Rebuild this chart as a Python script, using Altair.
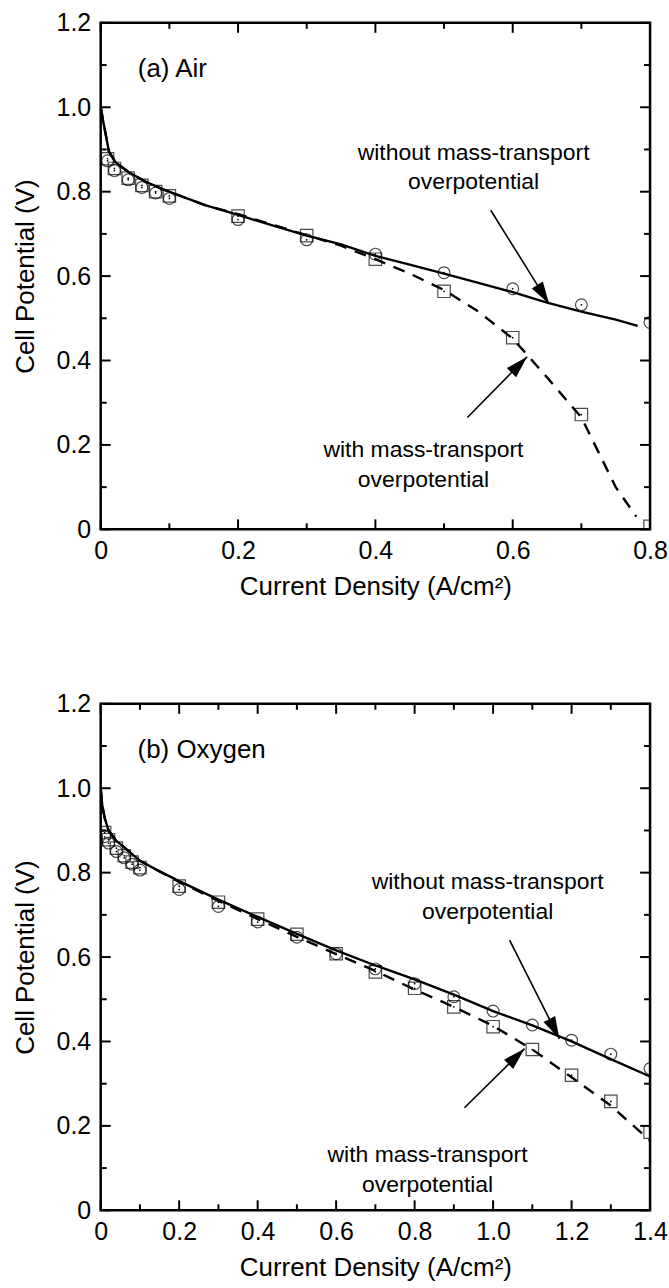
import math
import altair as alt
import pandas as pd

# ---------------- data: panel (a) Air ----------------
air_exp_x = [0.01, 0.02, 0.04, 0.06, 0.08, 0.1, 0.2, 0.3, 0.4, 0.5, 0.6, 0.7, 0.8]
air_circle_y = [0.873, 0.850, 0.828, 0.810, 0.797, 0.784, 0.734, 0.686, 0.652, 0.608, 0.570, 0.532, 0.490]
air_square_y = [0.878, 0.855, 0.832, 0.815, 0.800, 0.790, 0.742, 0.696, 0.640, 0.564, 0.454, 0.272, 0.007]

air_solid_x = [0, 0.004, 0.012, 0.022, 0.041, 0.065, 0.09, 0.114, 0.152, 0.2, 0.25, 0.3, 0.35,
               0.4, 0.45, 0.5, 0.55, 0.6, 0.65, 0.7, 0.75, 0.782]
air_solid_y = [1.0, 0.964, 0.895, 0.869, 0.846, 0.824, 0.806, 0.791, 0.768, 0.745, 0.720, 0.696, 0.675,
               0.648, 0.627, 0.606, 0.584, 0.562, 0.537, 0.516, 0.497, 0.482]
air_dash_x = [0, 0.004, 0.012, 0.022, 0.041, 0.065, 0.09, 0.114, 0.152, 0.2, 0.25, 0.3, 0.35,
              0.4, 0.45, 0.5, 0.55, 0.6, 0.65, 0.7, 0.75, 0.78]
air_dash_y = [1.0, 0.964, 0.895, 0.869, 0.846, 0.824, 0.806, 0.791, 0.768, 0.747, 0.722, 0.697, 0.672,
              0.640, 0.606, 0.567, 0.516, 0.452, 0.360, 0.265, 0.100, 0.030]

air_x_major = [0, 0.2, 0.4, 0.6, 0.8]
air_x_minor = [0.1, 0.3, 0.5, 0.7]

# ---------------- data: panel (b) Oxygen ----------------
oxy_exp_x = [0.01, 0.02, 0.04, 0.06, 0.08, 0.1, 0.2, 0.3, 0.4, 0.5, 0.6, 0.7, 0.8, 0.9,
             1.0, 1.1, 1.2, 1.3, 1.4]
oxy_circle_y = [0.885, 0.870, 0.850, 0.835, 0.820, 0.806, 0.760, 0.720, 0.683, 0.647, 0.608, 0.572,
                0.537, 0.506, 0.472, 0.439, 0.403, 0.370, 0.336]
oxy_square_y = [0.895, 0.878, 0.858, 0.840, 0.825, 0.812, 0.768, 0.730, 0.690, 0.654, 0.608, 0.565,
                0.526, 0.482, 0.435, 0.381, 0.320, 0.258, 0.185]

oxy_line_x = [0, 0.004, 0.01, 0.02, 0.04, 0.06, 0.1, 0.15, 0.2, 0.3, 0.4, 0.5, 0.6, 0.7, 0.8, 0.9,
              1.0, 1.1, 1.2, 1.3, 1.4]
oxy_solid_y = [1.0, 0.960, 0.930, 0.900, 0.875, 0.860, 0.828, 0.803, 0.780, 0.736, 0.695, 0.655,
               0.616, 0.580, 0.547, 0.511, 0.472, 0.438, 0.400, 0.358, 0.317]
oxy_dash_y = [1.0, 0.960, 0.930, 0.900, 0.875, 0.860, 0.828, 0.803, 0.778, 0.733, 0.690, 0.648,
              0.607, 0.567, 0.523, 0.482, 0.437, 0.381, 0.315, 0.248, 0.165]

oxy_x_major = [0, 0.2, 0.4, 0.6, 0.8, 1.0, 1.2, 1.4]
oxy_x_minor = [0.1, 0.3, 0.5, 0.7, 0.9, 1.1, 1.3]

y_major = [0, 0.2, 0.4, 0.6, 0.8, 1.0, 1.2]
y_minor = [0.1, 0.3, 0.5, 0.7, 0.9, 1.1]

# annotations: (text, x, y)
air_label = ("(a) Air", 0.054, 1.091)
air_notes = [("without mass-transport", 0.543, 0.891), ("overpotential", 0.543, 0.822),
             ("with mass-transport", 0.470, 0.189), ("overpotential", 0.470, 0.118)]
air_arrows = [(0.568, 0.756, 0.653, 0.534), (0.534, 0.265, 0.621, 0.409)]

oxy_label = ("(b) Oxygen", 0.094, 1.091)
oxy_notes = [("without mass-transport", 0.986, 0.777), ("overpotential", 0.986, 0.706),
             ("with mass-transport", 0.833, 0.132), ("overpotential", 0.833, 0.061)]
oxy_arrows = [(1.042, 0.640, 1.169, 0.406), (0.927, 0.243, 1.080, 0.383)]

# ---------------- styling ----------------
W, H = 551, 508
FONT = "Liberation Sans"
LAB_FS = 25
TITLE_FS = 26
PANEL_FS = 26
NOTE_FS = 23
MAJ, MIN = 10, 6
LBL = "datum.value == 0 ? '0' : format(datum.value, '.1f')"
ARROW_PATH = "M0,0 L0.58,2 L-0.58,2 Z"


def make_panel(xmax, x_major, x_minor, exp_x, circ_y, sq_y, s_x, s_y, d_x, d_y,
               label, notes, arrows):
    xs = alt.Scale(domain=[0, xmax], nice=False, zero=False)
    ys = alt.Scale(domain=[0, 1.2], nice=False, zero=False)
    xax = alt.Axis(values=x_major, labelExpr=LBL, ticks=False, domain=False, grid=False,
                   labelFontSize=LAB_FS, labelPadding=9, labelColor="black",
                   labelFlush=False, labelOverlap=False,
                   title="Current Density (A/cm²)", titleFontSize=TITLE_FS,
                   titleFontWeight="normal", titleColor="black", titlePadding=10)
    yax = alt.Axis(values=y_major, labelExpr=LBL, ticks=False, domain=False, grid=False,
                   labelFontSize=LAB_FS, labelPadding=10, labelColor="black",
                   labelFlush=False, labelOverlap=False,
                   title="Cell Potential (V)", titleFontSize=TITLE_FS,
                   titleFontWeight="normal", titleColor="black", titlePadding=18)

    def X(f):
        return alt.X(f"{f}:Q", scale=xs, axis=xax)

    def Y(f):
        return alt.Y(f"{f}:Q", scale=ys, axis=yax)

    df_solid = pd.DataFrame({"x": s_x, "y": s_y})
    df_dash = pd.DataFrame({"x": d_x, "y": d_y})
    df_c = pd.DataFrame({"x": exp_x, "y": circ_y})
    df_s = pd.DataFrame({"x": exp_x, "y": sq_y})

    layers = []
    layers.append(alt.Chart(df_solid).mark_line(color="black", strokeWidth=2.4, clip=True)
                  .encode(x=X("x"), y=Y("y")))
    layers.append(alt.Chart(df_dash).mark_line(color="black", strokeWidth=2.4, strokeDash=[12, 9], clip=True)
                  .encode(x=X("x"), y=Y("y")))
    layers.append(alt.Chart(df_c).mark_point(shape="circle", size=140, filled=False, color="black",
                                             strokeWidth=1.2, clip=True)
                  .encode(x=X("x"), y=Y("y")))
    layers.append(alt.Chart(df_s).mark_point(shape="square", size=155, filled=False, color="black",
                                             strokeWidth=1.2, clip=True)
                  .encode(x=X("x"), y=Y("y")))
    for d in (df_c, df_s):
        layers.append(alt.Chart(d).mark_circle(size=3, color="black", opacity=1, clip=True)
                      .encode(x=X("x"), y=Y("y")))

    # inward ticks on all four sides
    for vals, ln in ((x_major, MAJ), (x_minor, MIN)):
        dft = pd.DataFrame({"v": vals})
        layers.append(alt.Chart(dft).mark_rule(color="black", strokeWidth=2)
                      .encode(x=X("v"), y=alt.value(H), y2=alt.value(H - ln)))
        layers.append(alt.Chart(dft).mark_rule(color="black", strokeWidth=2)
                      .encode(x=X("v"), y=alt.value(0), y2=alt.value(ln)))
    for vals, ln in ((y_major, MAJ), (y_minor, MIN)):
        dft = pd.DataFrame({"v": vals})
        layers.append(alt.Chart(dft).mark_rule(color="black", strokeWidth=2)
                      .encode(y=Y("v"), x=alt.value(0), x2=alt.value(ln)))
        layers.append(alt.Chart(dft).mark_rule(color="black", strokeWidth=2)
                      .encode(y=Y("v"), x=alt.value(W), x2=alt.value(W - ln)))

    # panel label
    df_lab = pd.DataFrame({"x": [label[1]], "y": [label[2]], "t": [label[0]]})
    layers.append(alt.Chart(df_lab).mark_text(align="left", baseline="middle", fontSize=PANEL_FS,
                                              font=FONT, color="black")
                  .encode(x=X("x"), y=Y("y"), text="t:N"))
    # notes
    df_n = pd.DataFrame({"t": [n[0] for n in notes], "x": [n[1] for n in notes],
                         "y": [n[2] for n in notes]})
    layers.append(alt.Chart(df_n).mark_text(align="center", baseline="middle", fontSize=NOTE_FS,
                                            font=FONT, color="black")
                  .encode(x=X("x"), y=Y("y"), text="t:N"))
    # arrows
    df_a = pd.DataFrame({"x": [a[0] for a in arrows], "y": [a[1] for a in arrows],
                         "x2": [a[2] for a in arrows], "y2": [a[3] for a in arrows]})
    angles = []
    for a in arrows:
        dx = (a[2] - a[0]) / xmax * W
        dy = -(a[3] - a[1]) / 1.2 * H
        angles.append(math.degrees(math.atan2(dx, -dy)) % 360)
    df_a["ang"] = angles
    layers.append(alt.Chart(df_a).mark_rule(color="black", strokeWidth=1.6)
                  .encode(x=X("x"), y=Y("y"), x2="x2:Q", y2="y2:Q"))
    layers.append(alt.Chart(df_a).mark_point(shape=ARROW_PATH, size=500, filled=True, color="black",
                                             opacity=1, strokeWidth=0)
                  .encode(x=X("x2"), y=Y("y2"), angle=alt.Angle("ang:Q", scale=None)))

    return alt.layer(*layers).properties(width=W, height=H)


top = make_panel(0.8, air_x_major, air_x_minor, air_exp_x, air_circle_y, air_square_y,
                 air_solid_x, air_solid_y, air_dash_x, air_dash_y, air_label, air_notes, air_arrows)
bottom = make_panel(1.4, oxy_x_major, oxy_x_minor, oxy_exp_x, oxy_circle_y, oxy_square_y,
                    oxy_line_x, oxy_solid_y, oxy_line_x, oxy_dash_y, oxy_label, oxy_notes, oxy_arrows)

chart = (alt.vconcat(top, bottom, spacing=89)
         .properties(padding={"left": 10, "top": 7, "right": 0, "bottom": 0})
         .configure(font=FONT)
         .configure_view(stroke="black", strokeWidth=2.5))

chart.save("out.html", embed_options={"renderer": "svg", "actions": False})
